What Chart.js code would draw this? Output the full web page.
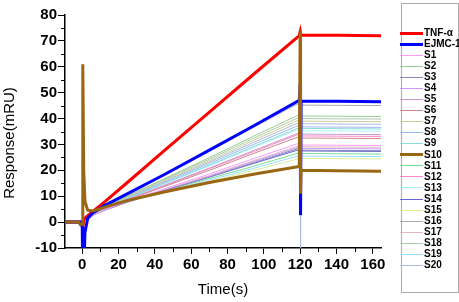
<!DOCTYPE html>
<html>
<head>
<meta charset="utf-8">
<script src="https://cdn.jsdelivr.net/npm/chart.js@4"></script>
<style>
  html, body { margin: 0; padding: 0; background: #fff; }
  #wrap { width: 459px; height: 302px; }
</style>
</head>
<body>
<div id="wrap"><canvas id="spr"></canvas></div>
<script>
// time points (s) shared by every sensorgram
const times = [-9.5, -2, -1, 0, 0.3, 0.8, 1.5, 3, 6, 12, 25, 45, 70, 95, 119.5, 120, 120.2, 120.5, 140, 164.5];

// responses (mRU)
const tnfAlpha = [0, 0, 0, -1, -2, 0.5, 1.5, 2.5, 4.2, 7.6, 15.4, 27.5, 42.5, 57.5, 72, 73.5, 72.5, 72.3, 72.2, 72];
const ejmc1 = [0, 0, 0, -2, -25, -20, -4, 1.5, 3.6, 6.3, 11, 18.3, 27.8, 37.4, 47, 53.5, 2.7, 46.8, 46.7, 46.5];
const s1 = [0, 0, 0, -0.5, -4, -8, -2.5, 1, 2.8, 4.6, 8.1, 12.8, 18.6, 24.7, 30.5, 30.5, 30.5, 29.8, 29.7, 29.6];
const s2 = [0, 0, 0, -0.5, -5, -9, -3, 0.8, 2.8, 5.3, 10.2, 16.7, 24.9, 33.4, 41.5, 41.5, 41.5, 41, 40.9, 40.8];
const s3 = [0, 0, 0, -0.5, -6, -10, -3.5, 0.6, 2.7, 4.5, 7.7, 12.1, 17.4, 23.1, 28.5, 28.5, 28.5, 27.8, 27.7, 27.6];
const s4 = [0, 0, 0, -0.4, -5, -9, -3, 0.9, 2.9, 4.5, 7.8, 12.2, 17.7, 23.5, 29, 29, 29, 28.5, 28.4, 28.3];
const s5 = [0, 0, 0, -0.5, -5, -9.5, -3, 0.8, 2.8, 4.9, 8.8, 14.2, 20.9, 27.8, 34.5, 34.5, 34.5, 34, 33.9, 33.8];
const s6 = [0, 0, 0, -0.5, -5, -9, -3, 0.9, 2.9, 4.8, 8.5, 13.7, 20, 26.7, 33, 33, 33, 32.5, 32.4, 32.3];
const s7 = [0, 0, 0, -0.5, -5, -9, -3, 0.8, 2.8, 5.2, 9.8, 16, 23.7, 31.8, 39.5, 39.5, 39.5, 39, 38.9, 38.8];
const s8 = [0, 0, 0, -0.5, -5.5, -10, -3.5, 0.7, 2.7, 5.1, 9.4, 15.3, 22.6, 30.2, 37.5, 37.5, 37.5, 36.8, 36.7, 36.6];
const s9 = [0, 0, 0, -0.5, -5, -9, -3, 0.8, 2.8, 5, 9.2, 14.9, 22, 29.4, 36.5, 36.5, 36.5, 36.2, 36.1, 36];
const s10 = [0, 0, -1, -0.8, 61, 20, 8, 4.6, 4.3, 5.7, 8.4, 11.6, 15.3, 18.6, 21.5, 74, 11, 20, 19.8, 19.6];
const s11 = [0, 0, 0, -0.5, -4.5, -8.5, -2.5, 1.2, 3.3, 5, 8.2, 12.1, 16.8, 21.7, 26.8, 26.8, 26.8, 26.5, 26.4, 26.3];
const s12 = [0, 0, 0, -0.5, -5, -9, -3, 0.8, 2.8, 4.8, 8.7, 14, 20.6, 27.4, 34, 34, 34, 33.3, 33.2, 33.1];
const s13 = [0, 0, 0, -0.5, -5, -9, -3, 0.8, 2.8, 5, 9.1, 14.8, 21.7, 29, 36, 36, 36, 35.3, 35.2, 35.1];
const s14 = [0, 0, 0, -0.5, -5, -9, -3, 1, 3, 4.6, 7.9, 12.2, 17.4, 22.8, 28, 28, 28, 27.5, 27.4, 27.3];
const s15 = [0, 0, 0, -0.5, -4.5, -8.5, -2.5, 1.3, 3.4, 5, 7.9, 11.4, 15.7, 20.1, 24.5, 24.5, 24.5, 24.6, 24.5, 24.4];
const s16 = [0, 0, 0, -0.5, -5, -9, -3, 0.8, 2.8, 5.6, 11, 18.4, 27.4, 36.9, 46, 46, 46, 45.2, 45.1, 45];
const s17 = [0, 0, 0, -0.5, -5, -9, -3, 0.9, 2.9, 4.6, 8, 12.5, 18, 23.9, 29.5, 29.5, 29.5, 29.1, 29, 28.9];
const s18 = [0, 0, 0, -0.5, -5, -9, -3, 0.8, 2.8, 5.3, 10, 16.4, 24.3, 32.6, 40.5, 40.5, 40.5, 40, 39.9, 39.8];
const s19 = [0, 0, 0, -0.5, -4.5, -8.5, -2.5, 1.2, 3.3, 5, 8, 11.7, 16.2, 20.9, 25.7, 25.7, 25.7, 25.5, 25.4, 25.3];
const s20 = [0, 0, 0, -0.5, -5, -9, -3, 0.8, 2.8, 5.1, 9.6, 15.7, 23.2, 31, 38.5, 38.5, -12, 38, 37.9, 37.8];

const seriesNames = ['TNF-α', 'EJMC-1', 'S1', 'S2', 'S3', 'S4', 'S5', 'S6', 'S7', 'S8', 'S9', 'S10',
  'S11', 'S12', 'S13', 'S14', 'S15', 'S16', 'S17', 'S18', 'S19', 'S20'];
const seriesValues = [tnfAlpha, ejmc1, s1, s2, s3, s4, s5, s6, s7, s8, s9, s10,
  s11, s12, s13, s14, s15, s16, s17, s18, s19, s20];
const seriesColors = ['#ff0000', '#0000ff', '#ff99ff', '#99cc99', '#8888bb', '#cc99ff', '#cc99cc', '#cc8888',
  '#cccc99', '#99bbee', '#88dddd', '#996611', '#77dd99', '#ff88cc', '#aaeeff', '#6666cc', '#ddee99',
  '#aaaaaa', '#ddbbbb', '#aaccaa', '#99ddff', '#aabbdd'];
// thick curves and their stacking (lower = drawn on top)
const thickOrder = { 'S10': 0, 'EJMC-1': 1, 'TNF-α': 2 };

const xTicks = [0, 20, 40, 60, 80, 100, 120, 140, 160];
const yTicks = [-10, 0, 10, 20, 30, 40, 50, 60, 70, 80];

const FONT = '"Liberation Sans", Arial, sans-serif';

const datasets = seriesNames.map((name, i) => {
  const thick = name in thickOrder;
  return {
    label: name,
    data: times.map((t, j) => ({ x: t, y: seriesValues[i][j] })),
    borderColor: seriesColors[i],
    backgroundColor: seriesColors[i],
    borderWidth: thick ? 3 : 1,
    pointRadius: 0,
    tension: 0,
    fill: false,
    order: thick ? thickOrder[name] : 3
  };
});

// minor ticks, axis titles and the boxed legend on the right
const decorations = {
  id: 'decorations',
  afterDraw(chart) {
    const ctx = chart.ctx;
    const xs = chart.scales.x, ys = chart.scales.y;
    const area = chart.chartArea;
    ctx.save();
    ctx.strokeStyle = '#000';
    ctx.lineWidth = 1;
    ctx.beginPath();
    for (let v = 10; v < 164; v += 20) {
      const px = Math.round(xs.getPixelForValue(v)) + 0.5;
      ctx.moveTo(px, area.bottom);
      ctx.lineTo(px, area.bottom + 4);
    }
    for (let v = -5; v < 80; v += 10) {
      const py = Math.round(ys.getPixelForValue(v)) + 0.5;
      ctx.moveTo(area.left, py);
      ctx.lineTo(area.left - 4, py);
    }
    ctx.stroke();

    ctx.fillStyle = '#000';
    ctx.font = '15px ' + FONT;
    ctx.textAlign = 'center';
    ctx.textBaseline = 'middle';
    ctx.fillText('Time(s)', (area.left + area.right) / 2, 290);
    ctx.save();
    ctx.translate(10, 143);
    ctx.rotate(-Math.PI / 2);
    ctx.fillText('Response(mRU)', 0, 0);
    ctx.restore();

    // legend box
    ctx.strokeStyle = '#aaaaaa';
    ctx.lineWidth = 1;
    ctx.strokeRect(401.5, 3.5, 57, 289);
    ctx.font = 'bold 10px ' + FONT;
    ctx.textAlign = 'left';
    chart.data.datasets.forEach((ds, i) => {
      const y = 32.5 + i * 11.07;
      ctx.strokeStyle = ds.borderColor;
      ctx.lineWidth = ds.borderWidth;
      ctx.beginPath();
      ctx.moveTo(400, Math.round(y) + 0.5);
      ctx.lineTo(423, Math.round(y) + 0.5);
      ctx.stroke();
      ctx.fillStyle = '#000';
      ctx.fillText(ds.label, 424, y + 0.5);
    });
    ctx.restore();
  }
};

new Chart(document.getElementById('spr').getContext('2d'), {
  type: 'line',
  data: { datasets: datasets },
  options: {
    responsive: true,
    maintainAspectRatio: false,
    animation: false,
    layout: { padding: { left: 0, top: 15, right: 78, bottom: 0 } },
    plugins: { legend: { display: false }, tooltip: { enabled: false } },
    scales: {
      x: {
        type: 'linear',
        min: -9.5,
        max: 164.5,
        afterBuildTicks: (scale) => { scale.ticks = xTicks.map(v => ({ value: v })); },
        afterFit: (scale) => { scale.height = 54; },
        grid: { drawOnChartArea: false, tickLength: 6, color: '#000', tickWidth: 1 },
        border: { color: '#000', width: 1.5 },
        ticks: { color: '#000', padding: 2, maxRotation: 0, font: { family: FONT, size: 15, weight: 'bold' } }
      },
      y: {
        min: -10,
        max: 80,
        afterBuildTicks: (scale) => { scale.ticks = yTicks.map(v => ({ value: v })); },
        afterFit: (scale) => { scale.width = 65; },
        grid: { drawOnChartArea: false, tickLength: 7, color: '#000', tickWidth: 1 },
        border: { color: '#000', width: 1.5 },
        ticks: { color: '#000', padding: 1, font: { family: FONT, size: 15, weight: 'bold' } }
      }
    }
  },
  plugins: [decorations]
});
</script>
</body>
</html>
